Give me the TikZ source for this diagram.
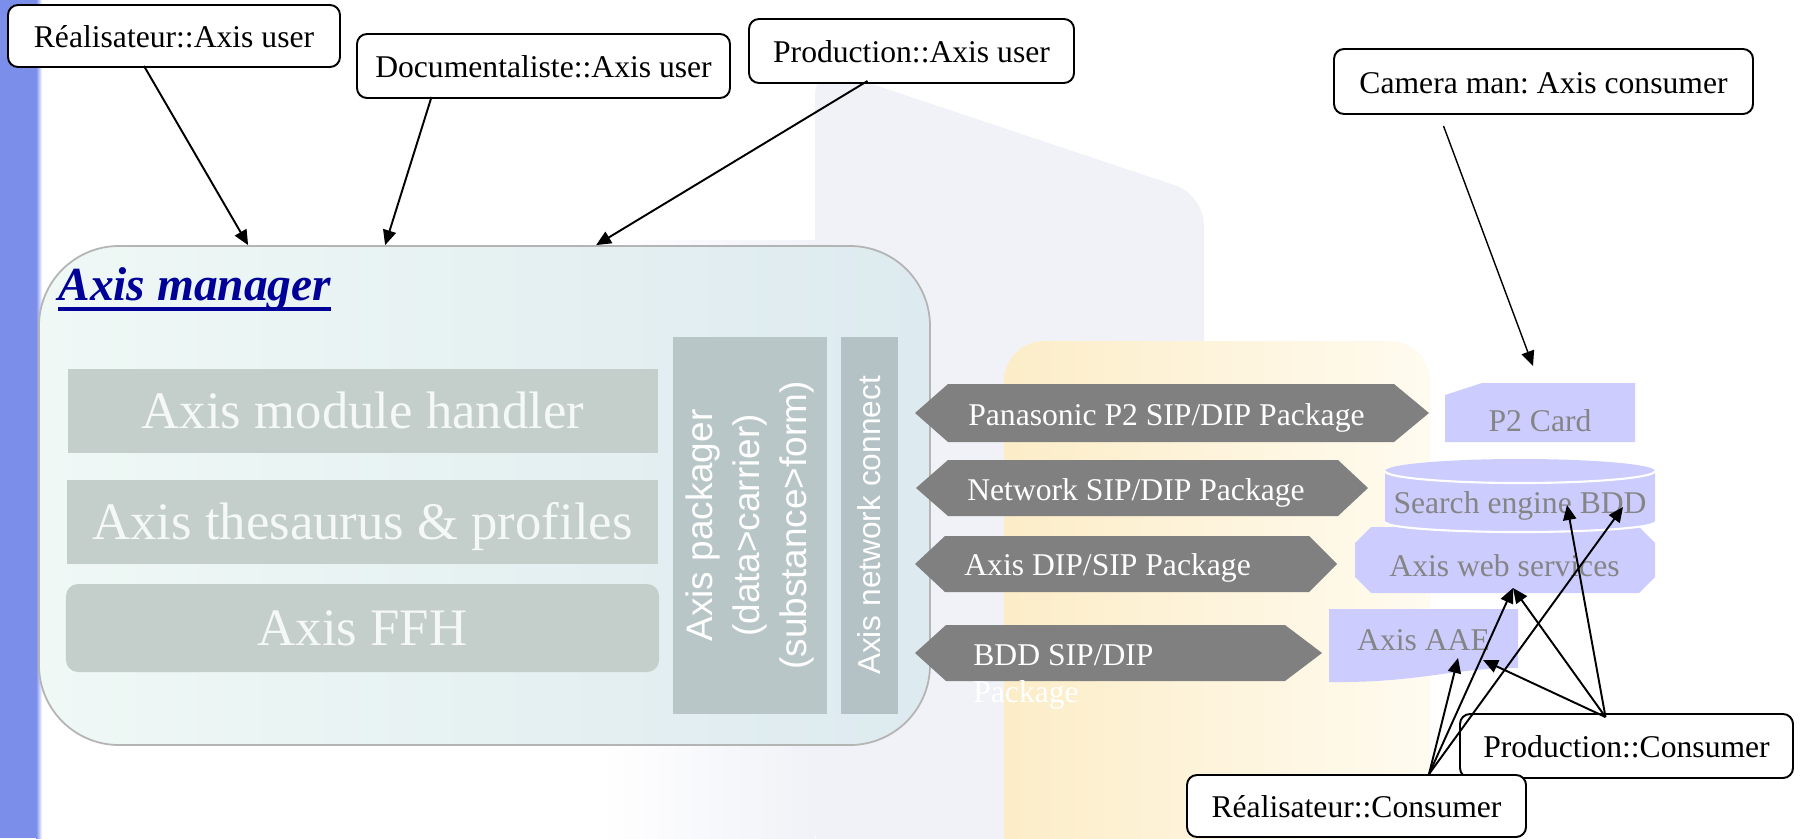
\documentclass[tikz,border=0pt]{standalone}
\usepackage{fontspec}
\setmainfont{Liberation Serif}
\setsansfont{Liberation Sans}
\usetikzlibrary{arrows.meta,calc}
\frenchspacing

\newsavebox{\titlebox}
\newcommand{\underlined}[1]{\sbox{\titlebox}{#1}\rlap{\rule[-6.2pt]{\wd\titlebox}{2.2pt}}\usebox{\titlebox}}

\definecolor{stripblue}{HTML}{7B8EEA}
\definecolor{pagetint}{HTML}{F1F2F8}
\definecolor{yellowedge}{HTML}{FCEDC8}
\definecolor{yellowlight}{HTML}{FFFBEF}
\definecolor{mgrleft}{HTML}{EFF8F5}
\definecolor{mgrright}{HTML}{DDEAEF}
\definecolor{mgrborder}{HTML}{B4B4B4}
\definecolor{modgray}{HTML}{C4CECA}
\definecolor{modtext}{HTML}{F4F8F6}
\definecolor{packgray}{HTML}{B9C6C7}
\definecolor{netgray}{HTML}{B4C2C5}
\definecolor{pkggray}{HTML}{808080}
\definecolor{lavender}{HTML}{CCCCFF}
\definecolor{devgray}{HTML}{858585}
\definecolor{titleblue}{HTML}{000099}

\begin{document}
\begin{tikzpicture}[x=0.2mm,y=0.2mm,
    actor/.style={draw=black,line width=1.1pt,rounded corners=0.2cm,fill=white,
      inner sep=0pt,text height=13.6pt,text depth=0pt,font=\fontsize{18pt}{21pt}\selectfont},
    module/.style={fill=modgray,text=modtext,inner sep=0pt,text height=20pt,text depth=0pt,
      font=\fontsize{30pt}{34pt}\selectfont},
    layer/.style={text=white,inner sep=0pt,rotate=90,align=center,minimum width=7.54cm},
    pkg/.style={fill=pkggray},
    pkgtext/.style={text=white,inner sep=0pt,font=\fontsize{18pt}{20.5pt}\selectfont},
    device/.style={fill=lavender},
    devtext/.style={text=devgray,inner sep=0pt,anchor=base,font=\fontsize{18pt}{21pt}\selectfont},
    conn/.style={line width=1.1pt,-{Triangle[length=8.5pt,width=7.5pt]}}]
    \useasboundingbox (0,0) rectangle (1801,-838);
    % background
    \fill[white] (0,0) rectangle (1801,-838);
    \shade[left color=white,right color=pagetint] (600,-240) rectangle (815,-860);
    \fill[pagetint,rounded corners=0.6cm] (815,-65) -- (1204,-195) -- (1204,-860) -- (815,-860) -- cycle;
    \shade[left color=yellowedge,right color=yellowlight,rounded corners=0.8cm] (1004,-341) rectangle (1430,-880);
    \fill[stripblue] (0,0) rectangle (36,-838);
    \shade[left color=stripblue,right color=white] (36,0) rectangle (42,-838);
    % axis manager
    \node[draw=mgrborder,line width=1pt,rounded corners=1.6cm,left color=mgrleft,middle color=mgrleft,right color=mgrright,
      minimum width=17.82cm,minimum height=9.98cm,inner sep=0pt] (mgr) at (484.5,-495.5) {};
    \node[anchor=base west,inner sep=0pt,text=titleblue,
      font=\fontsize{27pt}{30pt}\selectfont\bfseries\itshape] (mgrtitle) at (58,-300) {\underlined{Axis manager}};
    \node[module,minimum width=11.8cm,minimum height=1.68cm] (modhandler) at (363,-411) {Axis module handler};
    \node[module,minimum width=11.8cm,minimum height=1.68cm] (thesaurus) at (362.5,-522) {Axis thesaurus \& profiles};
    \node[module,rounded corners=0.24cm,minimum width=11.86cm,minimum height=1.76cm] (ffh) at (362.5,-628) {Axis FFH};
    \node[layer,fill=packgray,minimum height=3.08cm,font=\sffamily\fontsize{21pt}{26.6pt}\selectfont]
      (packager) at (750,-525.5) {Axis packager\\(data>carrier)\\(substance>form)};
    \node[layer,fill=netgray,minimum height=1.14cm,font=\sffamily\fontsize{18pt}{21pt}\selectfont]
      (netconnect) at (869.5,-525.5) {Axis network connect};
    % packages
    \fill[pkg] (915,-413) -- (948,-384) -- (1394,-384) -- (1429,-413) -- (1394,-442) -- (948,-442) -- cycle;
    \node[pkgtext,anchor=base west] (p2pkg) at (968,-425) {Panasonic P2 SIP/DIP Package};
    \fill[pkg] (916,-488) -- (948,-460) -- (1338,-460) -- (1368,-488) -- (1338,-516) -- (948,-516) -- cycle;
    \node[pkgtext,anchor=base west] (netpkg) at (967,-500) {Network SIP/DIP Package};
    \fill[pkg] (915,-564) -- (945,-536) -- (1309,-536) -- (1337,-564) -- (1309,-592) -- (945,-592) -- cycle;
    \node[pkgtext,anchor=base west] (axispkg) at (964,-575) {Axis DIP/SIP Package};
    \fill[pkg] (915,-653) -- (946,-625) -- (1285,-625) -- (1322,-653) -- (1285,-681) -- (946,-681) -- cycle;
    \node[pkgtext,anchor=base west,align=left] (bddpkg) at (973,-702) {BDD SIP/DIP\\Package};
    % devices
    \fill[device] (1445,-395) -- (1482,-383) -- (1635,-383) -- (1635,-442) -- (1445,-442) -- cycle;
    \node[devtext] (p2card) at (1540,-431) {P2 Card};
    \fill[device] (1371,-527) -- (1639,-527) -- (1655,-543) -- (1655,-577) -- (1639,-593) -- (1371,-593) -- (1355,-577) -- (1355,-543) -- cycle;
    \node[devtext] (websvc) at (1504.5,-576) {Axis web services};
    \fill[device] (1385,-471) -- (1385,-522) arc[start angle=180,end angle=360,x radius=135,y radius=10]
      -- (1655,-471) arc[start angle=0,end angle=180,x radius=135,y radius=12] -- cycle;
    \draw[white,line width=1.2pt] (1385,-471) arc[start angle=180,end angle=360,x radius=135,y radius=12];
    \draw[white,line width=1.2pt] (1385,-522) arc[start angle=180,end angle=360,x radius=135,y radius=10];
    \node[devtext] (search) at (1520,-513) {Search engine BDD};
    \fill[device] (1329,-609) -- (1518,-609) -- (1518,-668) .. controls (1450,-668) and (1420,-683) .. (1329,-682) -- cycle;
    \node[devtext] (aae) at (1423.5,-650) {Axis AAE};
    % actors
    \node[actor,minimum width=6.64cm,minimum height=1.24cm] (rusr) at (174,-36) {Réalisateur::Axis user};
    \node[actor,minimum width=7.46cm,minimum height=1.28cm] (dusr) at (543.5,-66) {Documentaliste::Axis user};
    \node[actor,minimum width=6.5cm,minimum height=1.28cm] (pusr) at (911.5,-51) {Production::Axis user};
    \node[actor,minimum width=8.38cm,minimum height=1.3cm] (cam) at (1543.5,-81.5) {Camera man: Axis consumer};
    \node[actor,minimum width=6.66cm,minimum height=1.28cm] (pcons) at (1626.5,-746) {Production::Consumer};
    \node[actor,minimum width=6.78cm,minimum height=1.24cm] (rcons) at (1356.5,-806) {Réalisateur::Consumer};
    % arrow ends
    \coordinate (p2top) at (1533,-366);
    \coordinate (aaeL) at (1458,-658);
    \coordinate (aaeR) at (1483,-660);
    \coordinate (wsB) at (1513,-588);
    \coordinate (seL) at (1567,-505);
    \coordinate (seR) at (1623,-507);
    \coordinate (rfoot) at ($(rcons.north)+(72.5,0)$);
    \coordinate (pfoot) at ($(pcons.north)+(-21,-4)$);
    % connectors
    \draw[conn] ($(rusr.south)+(-30,2)$) -- ($(mgr.north west)+(210,0)$);
    \draw[conn] ($(dusr.south)+(-112,2)$) -- ($(mgr.north west)+(347,0)$);
    \draw[conn] ($(pusr.south)+(-44,3)$) -- ($(mgr.north west)+(558,0)$);
    \draw[conn,line width=0.8pt] ($(cam.south)+(-100,-11)$) -- (p2top);
    \draw[conn] (rfoot) -- (aaeL);
    \draw[conn] (rfoot) -- (wsB);
    \draw[conn] (rfoot) -- (seR);
    \draw[conn] (pfoot) -- (aaeR);
    \draw[conn] (pfoot) -- (wsB);
    \draw[conn] (pfoot) -- (seL);
\end{tikzpicture}
\end{document}
